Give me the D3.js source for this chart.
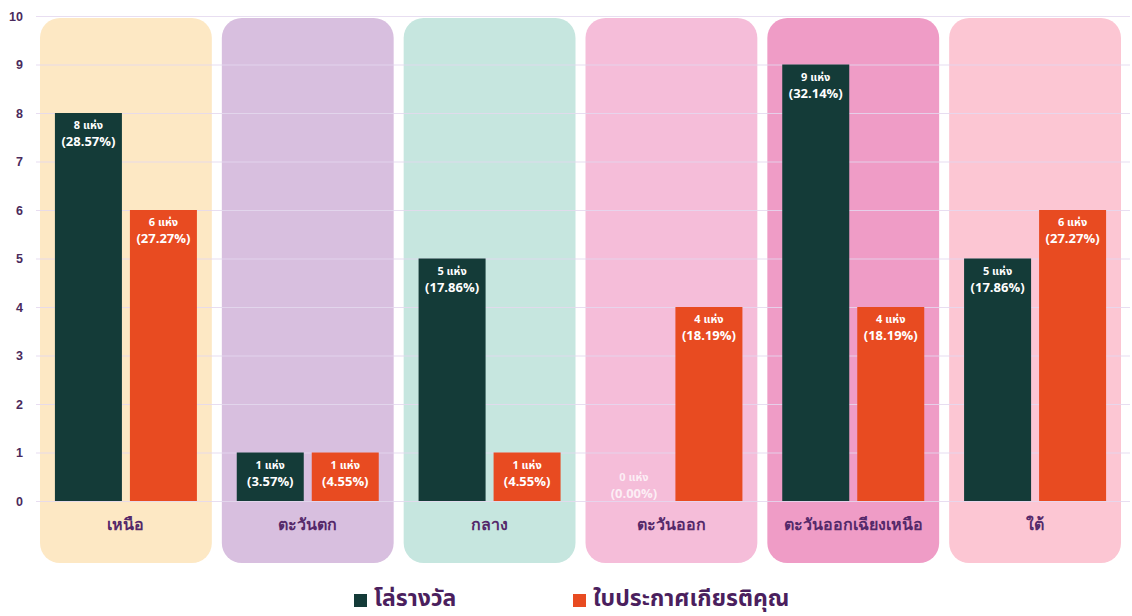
<!DOCTYPE html>
<html><head><meta charset="utf-8">
<script src="https://cdn.jsdelivr.net/npm/d3@7"></script>
<style>body{margin:0;background:#fff;}svg{display:block;font-family:"Noto Sans Thai","Noto Sans","Open Sans",sans-serif;}</style>
</head><body><svg id="c" width="1132" height="616"></svg>
<script>
const categories = ["เหนือ","ตะวันตก","กลาง","ตะวันออก","ตะวันออกเฉียงเหนือ","ใต้"];
const seriesNames = ["โล่รางวัล","ใบประกาศเกียรติคุณ"];
const awards = [8,1,5,0,9,5];
const certificates = [6,1,1,4,4,6];
const awardPct = ["28.57%","3.57%","17.86%","0.00%","32.14%","17.86%"];
const certPct = ["27.27%","4.55%","4.55%","18.19%","18.19%","27.27%"];
const yTicks = [0,1,2,3,4,5,6,7,8,9,10];
const panelColors = ["#fde8c4","#d8bfdf","#c6e6df","#f5bdd9","#ef9cc6","#fcc6d3"];
const seriesColors = ["#143b38","#e84b21"];

const svg = d3.select("#c");
const x = d3.scaleBand().domain(categories).range([35,1126]).padding(0);
const y = d3.scaleLinear().domain([0,10]).range([501,16]);
const inner = d3.scaleBand().domain([0,1]).range([0,142]).paddingInner(0.1067).paddingOuter(0);

// panels
svg.append("g").selectAll("rect").data(categories).join("rect")
  .attr("x", d=>x(d)+5).attr("width", x.bandwidth()-10)
  .attr("y", 18).attr("height", 545).attr("rx", 20)
  .attr("fill", (d,i)=>panelColors[i]);

// grid
const yAxis = d3.axisLeft(y).tickValues(yTicks).tickSize(-(1130-36)).tickPadding(14);
const gy = svg.append("g").attr("transform","translate(36,0)").call(yAxis);
gy.select(".domain").remove();
gy.selectAll(".tick line").attr("stroke","#e4d8ee").attr("stroke-width",1.2).attr("opacity",0.85);
gy.selectAll(".tick text").attr("fill","#4a2a5c").attr("font-size",12.5).attr("font-weight","bold").attr("x",-13).attr("text-anchor","end").attr("dy","0.32em");

// bars
const data = [];
categories.forEach((c,i)=>{
  data.push({c, s:0, v:awards[i], p:awardPct[i]});
  data.push({c, s:1, v:certificates[i], p:certPct[i]});
});
const cx = c => x(c) + x.bandwidth()/2 - 71;
const bars = svg.append("g");
bars.selectAll("rect").data(data.filter(d=>d.v>0)).join("rect")
  .attr("x", d=>cx(d.c)+inner(d.s)).attr("width", inner.bandwidth())
  .attr("y", d=>y(d.v)).attr("height", d=>y(0)-y(d.v))
  .attr("fill", d=>seriesColors[d.s]);

const lab = svg.append("g").attr("text-anchor","middle").attr("font-weight","bold");
data.forEach(d=>{
  const mx = cx(d.c)+inner(d.s)+inner.bandwidth()/2;
  const top = d.v>0 ? y(d.v) : y(0)-36;
  const col = d.v>0 ? "#ffffff" : "rgba(255,255,255,0.75)";
  lab.append("text").attr("fill",col).attr("x",mx).attr("y",top+16).attr("font-size",11).text(d.v+" แห่ง");
  lab.append("text").attr("fill",col).attr("x",mx).attr("y",top+33).attr("font-size",13).text("("+d.p+")");
});

// category labels
const xAxis = d3.axisBottom(x).tickSize(0).tickPadding(0);
const gx = svg.append("g").attr("transform","translate(0,501)").call(xAxis);
gx.select(".domain").remove();
gx.selectAll(".tick text").attr("fill","#55296a").attr("font-size",16).attr("font-weight",600).attr("dy",0).attr("y",29);

// legend
const legendX = [354,573];
const lg = svg.append("g");
seriesNames.forEach((n,i)=>{
  lg.append("rect").attr("x",legendX[i]).attr("y",594).attr("width",13).attr("height",13).attr("fill",seriesColors[i]);
  lg.append("text").attr("x",legendX[i]+20).attr("y",606).attr("font-size",23).attr("font-weight","bold").attr("fill","#4b1f5e").text(n);
});
</script></body></html>
